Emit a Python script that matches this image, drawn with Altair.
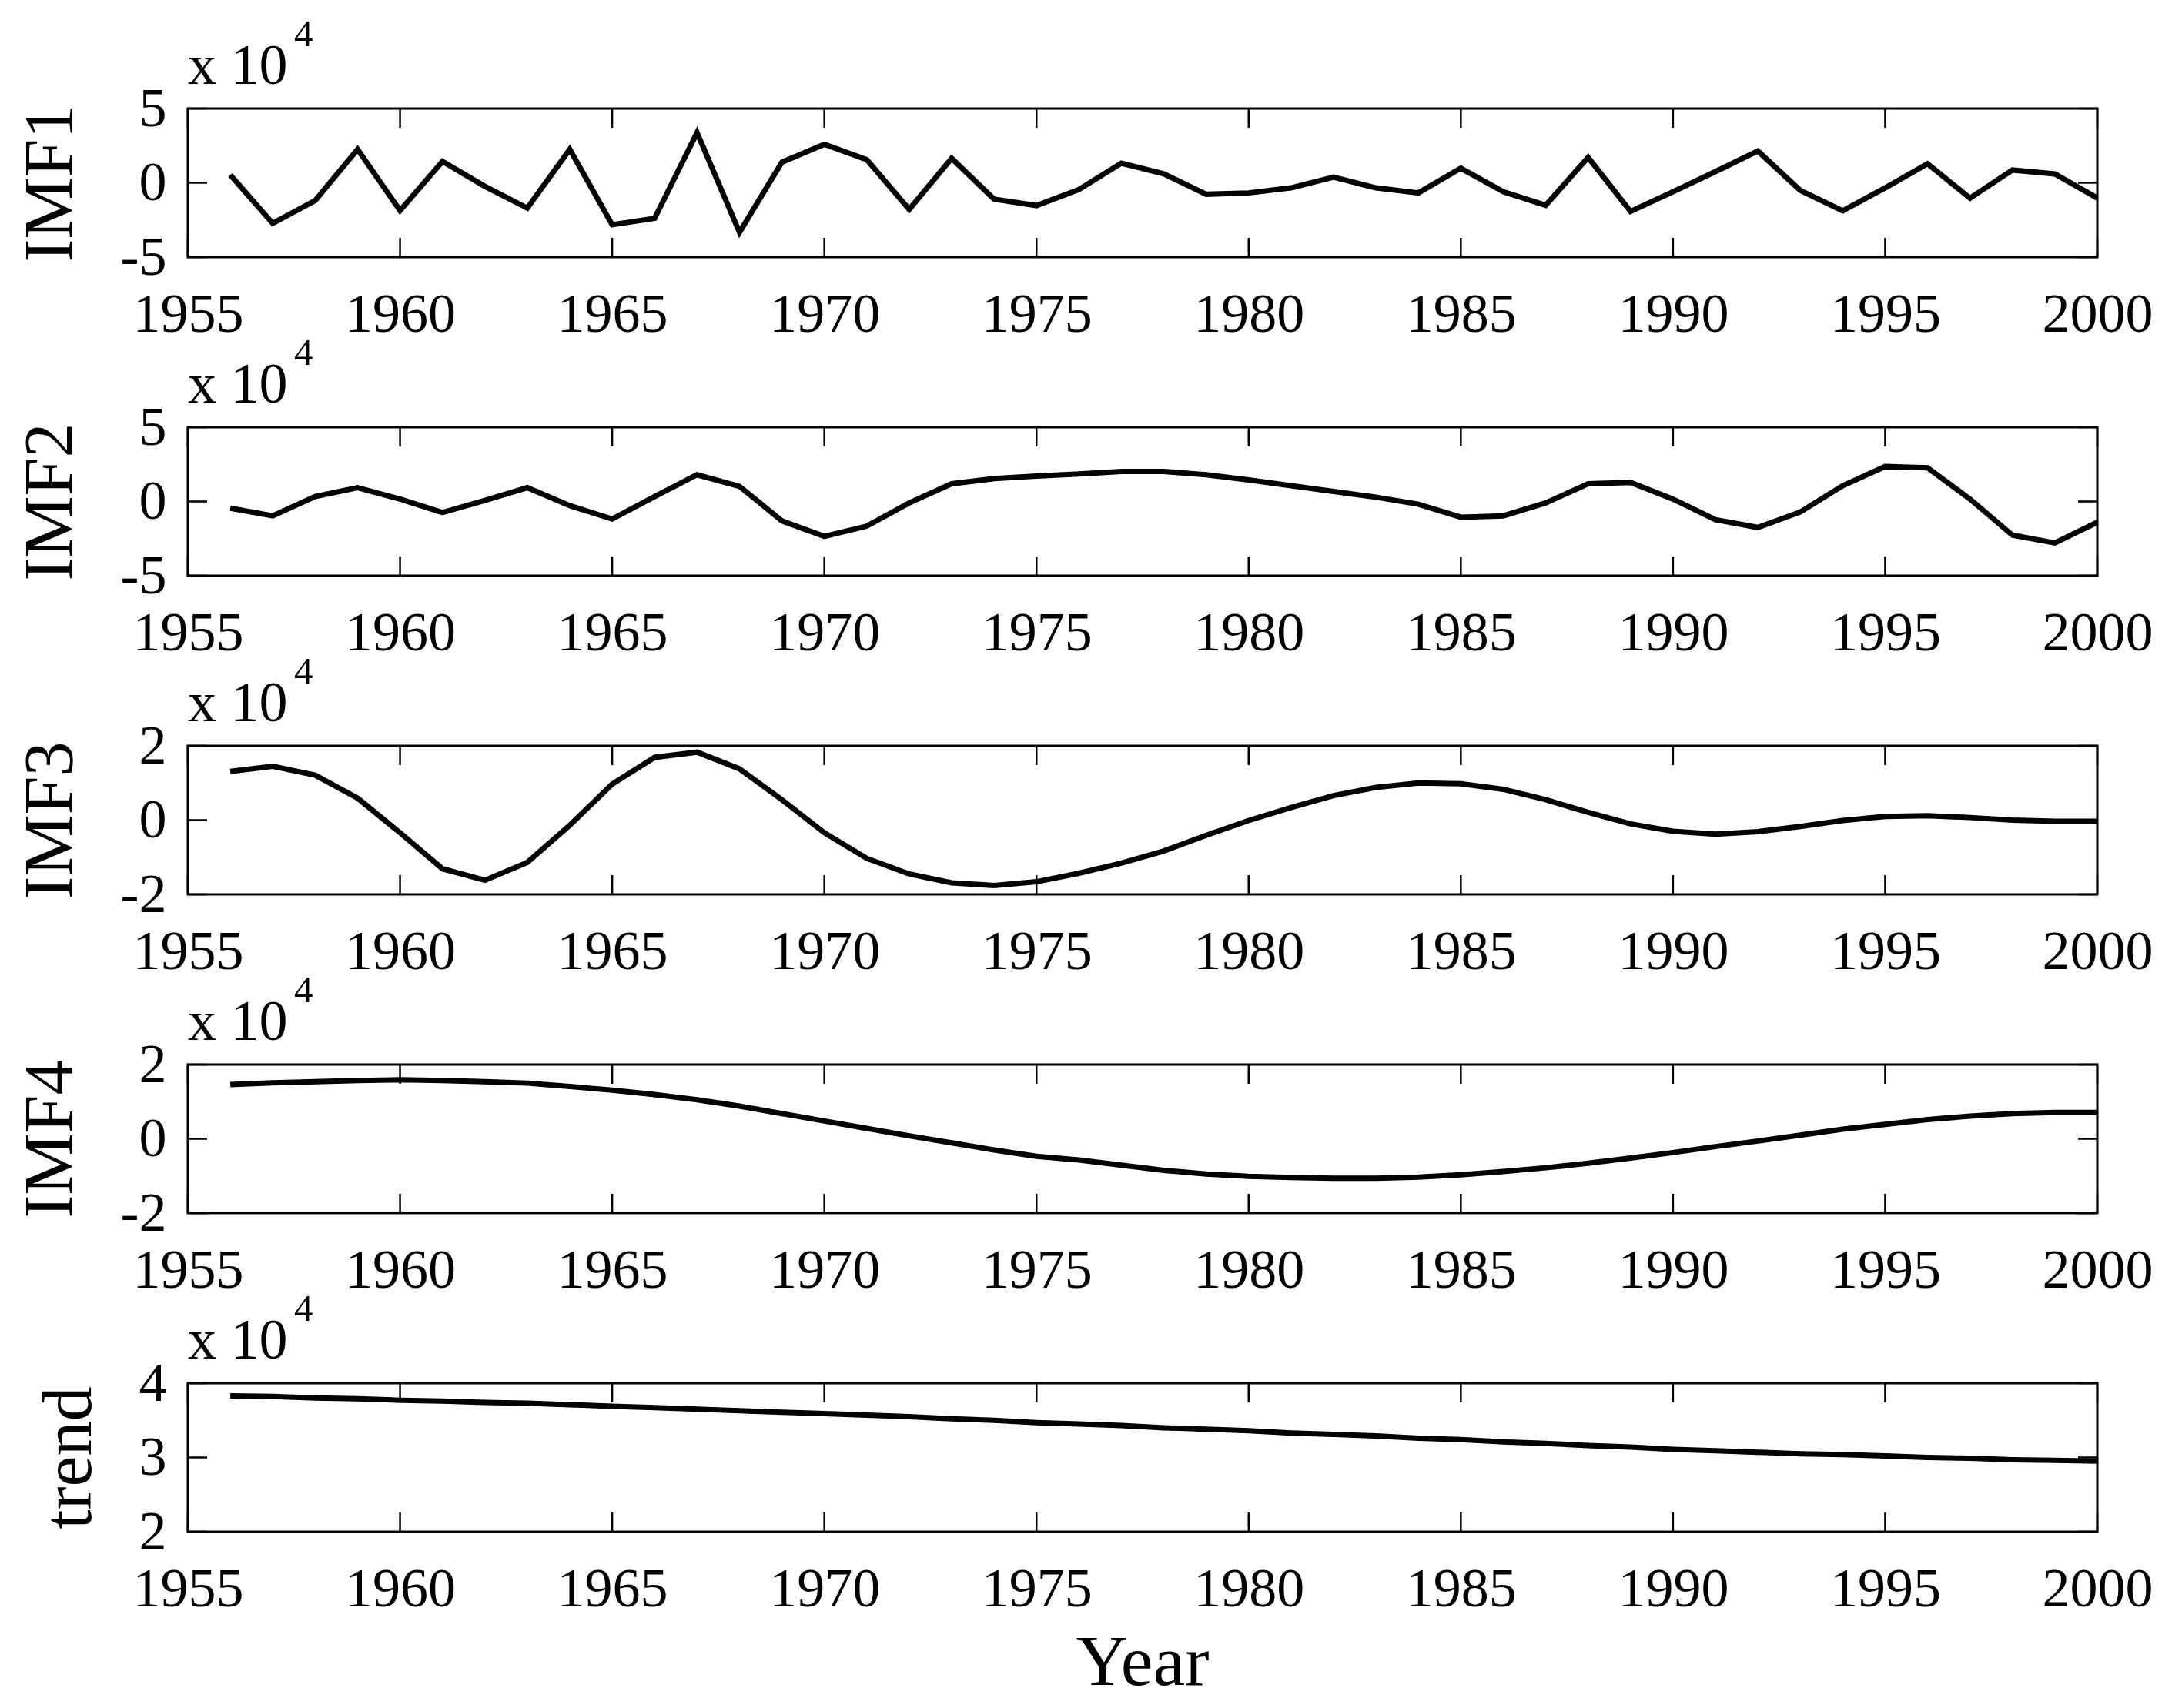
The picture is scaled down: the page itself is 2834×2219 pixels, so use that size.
import altair as alt
import pandas as pd

years = list(range(1956, 2001))

imf1 = [0.53, -2.73, -1.19, 2.25, -1.87, 1.44, -0.24, -1.70, 2.25, -2.82,
        -2.39, 3.37, -3.33, 1.39, 2.59, 1.56, -1.79, 1.65, -1.10, -1.53,
        -0.45, 1.32, 0.60, -0.77, -0.68, -0.34, 0.38, -0.34, -0.68, 0.98,
        -0.60, -1.51, 1.71, -1.93, -0.60, 0.75, 2.14, -0.51, -1.88, -0.34,
        1.28, -1.03, 0.86, 0.60, -1.03]

imf2 = [-0.45, -0.97, 0.33, 0.93, 0.16, -0.74, 0.07, 0.93, -0.28, -1.18,
        0.33, 1.80, 1.02, -1.31, -2.35, -1.66, -0.10, 1.19, 1.54, 1.71,
        1.85, 2.02, 2.02, 1.80, 1.45, 1.06, 0.67, 0.29, -0.19, -1.06,
        -0.97, -0.10, 1.19, 1.28, 0.16, -1.23, -1.75, -0.71, 1.06, 2.35,
        2.27, 0.16, -2.27, -2.79, -1.40]

imf3 = [1.31, 1.45, 1.21, 0.59, -0.34, -1.31, -1.62, -1.14, -0.14, 0.97,
        1.69, 1.83, 1.38, 0.55, -0.34, -1.03, -1.45, -1.69, -1.76, -1.66,
        -1.43, -1.16, -0.83, -0.41, -0.01, 0.34, 0.66, 0.88, 1.00, 0.98,
        0.83, 0.55, 0.21, -0.10, -0.30, -0.38, -0.31, -0.17, -0.01, 0.10,
        0.12, 0.07, 0.00, -0.03, -0.03]

imf4 = [1.46, 1.51, 1.54, 1.57, 1.59, 1.57, 1.54, 1.50, 1.41, 1.31,
        1.19, 1.05, 0.88, 0.68, 0.48, 0.28, 0.08, -0.11, -0.30, -0.47,
        -0.57, -0.71, -0.85, -0.95, -1.01, -1.04, -1.06, -1.06, -1.03, -0.97,
        -0.88, -0.78, -0.66, -0.52, -0.37, -0.21, -0.06, 0.10, 0.26, 0.39,
        0.52, 0.61, 0.68, 0.71, 0.71]

trend = [3.83, 3.82, 3.80, 3.79, 3.77, 3.76, 3.74, 3.73, 3.71, 3.69,
         3.67, 3.65, 3.63, 3.61, 3.59, 3.57, 3.55, 3.52, 3.50, 3.47,
         3.45, 3.43, 3.40, 3.38, 3.36, 3.33, 3.31, 3.29, 3.26, 3.24,
         3.21, 3.19, 3.16, 3.14, 3.11, 3.09, 3.07, 3.05, 3.04, 3.02,
         3.00, 2.99, 2.97, 2.96, 2.95]

names = ["IMF1", "IMF2", "IMF3", "IMF4", "trend"]
series = [imf1, imf2, imf3, imf4, trend]
domains = [[-5, 5], [-5, 5], [-2, 2], [-2, 2], [2, 4]]
yticks = [[-5, 0, 5], [-5, 0, 5], [-2, 0, 2], [-2, 0, 2], [2, 3, 4]]
xticks = list(range(1955, 2001, 5))
multiplier = "x 10"
exponent = "4"
xlabel = "Year"

W, H = 2480, 193
FONT = "Liberation Serif"
TICK = 25


def panel(name, vals, dom, yt, last):
    df = pd.DataFrame({"year": years, "v": vals})
    xs = alt.Scale(domain=[1955, 2000], nice=False, zero=False)
    ys = alt.Scale(domain=dom, nice=False, zero=False)
    xaxis = alt.Axis(values=xticks, format="d", labelFlush=False, labelOverlap=False,
                     ticks=False, domain=False, grid=False, labelPadding=39,
                     labelFontSize=72, title=None)
    yaxis = alt.Axis(values=yt,
                     labelExpr="datum.value < 0 ? '-' + (-datum.value) : '' + datum.value",
                     ticks=False, domain=False, grid=False, labelPadding=28,
                     labelFontSize=72, labelOverlap=False, labelFlush=False,
                     title=name, titleFontSize=90, titlePadding=44,
                     titleFontWeight="normal")
    X = alt.X("year:Q", scale=xs, axis=xaxis)
    Y = alt.Y("v:Q", scale=ys, axis=yaxis)

    line = alt.Chart(df).mark_line(color="black", strokeWidth=7, clip=True,
                                   strokeJoin="miter").encode(x=X, y=Y)

    xt = pd.DataFrame({"year": xticks})
    bot = alt.Chart(xt).mark_rule(color="black", strokeWidth=2.5).encode(
        x=X, y=alt.value(H), y2=alt.value(H - TICK))
    top = alt.Chart(xt).mark_rule(color="black", strokeWidth=2.5).encode(
        x=X, y=alt.value(0), y2=alt.value(TICK))
    ytd = pd.DataFrame({"v": yt})
    left = alt.Chart(ytd).mark_rule(color="black", strokeWidth=2.5).encode(
        y=Y, x=alt.value(0), x2=alt.value(TICK))
    right = alt.Chart(ytd).mark_rule(color="black", strokeWidth=2.5).encode(
        y=Y, x=alt.value(W - TICK), x2=alt.value(W))

    mult = alt.Chart(pd.DataFrame({"t": [multiplier]})).mark_text(
        align="left", baseline="alphabetic", fontSize=74, font=FONT, color="black"
    ).encode(x=alt.value(0), y=alt.value(-32), text="t:N")
    sup = alt.Chart(pd.DataFrame({"t": [exponent]})).mark_text(
        align="left", baseline="alphabetic", fontSize=49, font=FONT, color="black"
    ).encode(x=alt.value(138), y=alt.value(-81), text="t:N")

    layers = [line, bot, top, left, right, mult, sup]
    if last:
        yl = alt.Chart(pd.DataFrame({"t": [xlabel]})).mark_text(
            align="center", baseline="alphabetic", fontSize=94, font=FONT, color="black"
        ).encode(x=alt.value(W / 2), y=alt.value(H + 199), text="t:N")
        layers.append(yl)
    return alt.layer(*layers).properties(width=W, height=H)


charts = [panel(n, s, d, t, i == 4) for i, (n, s, d, t) in
          enumerate(zip(names, series, domains, yticks))]

chart = alt.vconcat(*charts, spacing=221, bounds="flush").properties(
    padding={"left": 11, "top": 11, "right": 10, "bottom": 10}
).configure(font=FONT).configure_view(
    stroke="black", strokeWidth=3
).configure_axis(
    labelColor="black", titleColor="black", labelFont=FONT, titleFont=FONT
)

chart.save("out.html", embed_options={"renderer": "svg", "actions": False})
